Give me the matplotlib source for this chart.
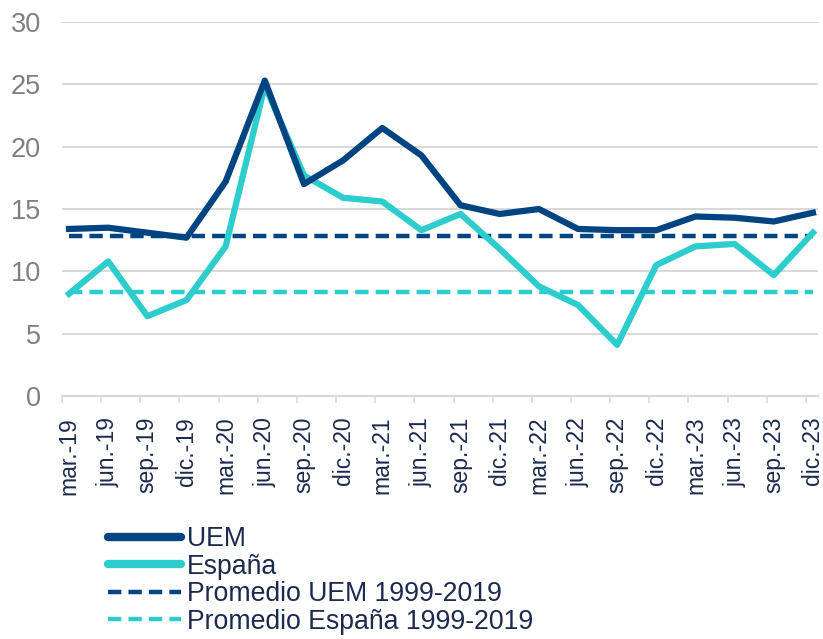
import numpy as np
import matplotlib
matplotlib.use("Agg")
import matplotlib.pyplot as plt

plt.rcParams['font.family'] = ['Liberation Sans', 'DejaVu Sans']

quarters = ["mar.-19", "jun.-19", "sep.-19", "dic.-19", "mar.-20", "jun.-20", "sep.-20",
            "dic.-20", "mar.-21", "jun.-21", "sep.-21", "dic.-21", "mar.-22", "jun.-22",
            "sep.-22", "dic.-22", "mar.-23", "jun.-23", "sep.-23", "dic.-23"]
uem = [13.4, 13.5, 13.1, 12.7, 17.2, 25.3, 17.0, 18.9, 21.5, 19.3,
       15.3, 14.6, 15.0, 13.4, 13.3, 13.3, 14.4, 14.3, 14.0, 14.7]
espana = [8.2, 10.8, 6.4, 7.7, 12.0, 24.9, 17.7, 15.9, 15.6, 13.3,
          14.6, 11.8, 8.8, 7.3, 4.1, 10.5, 12.0, 12.2, 9.7, 13.1]
avg_uem = 12.85
avg_espana = 8.35

navy = "#004481"
aqua = "#2DCCCD"
textc = "#1B2A4E"
grid = "#D9D9D9"

x = np.arange(len(quarters))

fig = plt.figure(figsize=(8.23, 6.39), dpi=100)
ax = fig.add_axes([62/823, 1-396/639, 756/823, 374/639])

ax.plot(x, [avg_uem]*len(x), color=navy, lw=3.2, dashes=(3.0, 1.6), label="Promedio UEM 1999-2019", zorder=2)
ax.plot(x, [avg_espana]*len(x), color=aqua, lw=3.2, dashes=(3.0, 1.6), label="Promedio España 1999-2019", zorder=2)
ax.plot(x, espana, color=aqua, lw=4.5, label="España", zorder=3)
ax.plot(x, uem, color=navy, lw=4.5, label="UEM", zorder=4)

ax.set_ylim(0, 30)
ax.set_xlim(-0.18, 19.13)
ax.set_yticks(range(0, 31, 5))
ax.yaxis.grid(True, color=grid, lw=1.5)
ax.set_axisbelow(True)
for s in ["top", "right", "left"]:
    ax.spines[s].set_visible(False)
ax.spines["bottom"].set_color(grid)
ax.spines["bottom"].set_linewidth(1.5)

ax.tick_params(axis="y", length=0, pad=15, labelsize=19.5, labelcolor="#7F7F7F")
ax.set_xticks(x)
ax.set_xticklabels(quarters, rotation=90)
ax.tick_params(axis="x", which="major", length=0, pad=15, labelsize=16.5, labelcolor=textc)
ax.set_xticks(x - 0.18, minor=True)
ax.tick_params(axis="x", which="minor", length=5, width=1.2, color=grid)

handles, labels = ax.get_legend_handles_labels()
order = [3, 2, 0, 1]
leg = fig.legend([handles[i] for i in order], [labels[i] for i in order],
                 loc="upper left", bbox_to_anchor=(108/823, 1-526/639), frameon=False,
                 fontsize=19.2, labelspacing=0.06, handlelength=2.75, handletextpad=0.22,
                 borderpad=0, borderaxespad=0)
for t in leg.get_texts():
    t.set_color(textc)
for lh in leg.get_lines()[:2]:
    lh.set_linewidth(6)
    lh.set_solid_capstyle('round')

fig.savefig("out.png", dpi=100)
